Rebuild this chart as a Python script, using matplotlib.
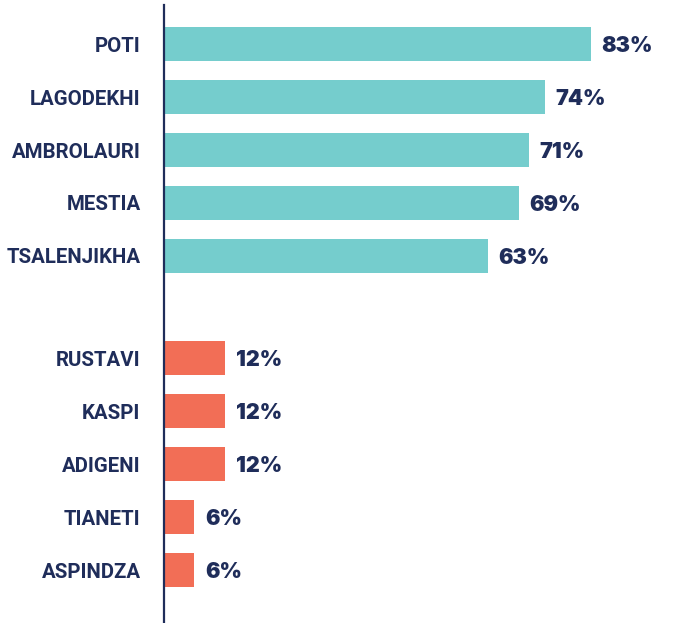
import matplotlib
matplotlib.use("Agg")
import matplotlib.pyplot as plt
import numpy as np

top_categories = ["POTI", "LAGODEKHI", "AMBROLAURI", "MESTIA", "TSALENJIKHA"]
top_values = [83, 74, 71, 69, 63]
bottom_categories = ["RUSTAVI", "KASPI", "ADIGENI", "TIANETI", "ASPINDZA"]
bottom_values = [12, 12, 12, 6, 6]

TEAL = "#75CDCD"
CORAL = "#F26E56"
NAVY = "#1F2D5A"

fig = plt.figure(figsize=(6.84, 6.23), dpi=100)
ax = fig.add_axes([163.5 / 684, 0.0, 1 - 163.5 / 684, 1 - 5 / 623])

gap = 1.925
top_pos = np.arange(len(top_values))
bottom_pos = np.arange(len(bottom_values)) + len(top_values) - 1 + gap

bh = 0.64
ax.barh(top_pos, top_values, height=bh, color=TEAL, zorder=2)
ax.barh(bottom_pos, bottom_values, height=bh, color=CORAL, zorder=2)

for p, v in list(zip(top_pos, top_values)) + list(zip(bottom_pos, bottom_values)):
    ax.annotate(f"{v}%", xy=(v, p), xytext=(7.5, -1.5), textcoords="offset points",
                va="center", ha="left", fontsize=15.5, fontweight=900,
                family="Inter", color=NAVY)

ax.set_yticks(list(top_pos) + list(bottom_pos))
ax.set_yticklabels(top_categories + bottom_categories, fontsize=14.7,
                   fontweight="bold", family="Roboto", color=NAVY)
ax.tick_params(axis="y", length=0, pad=16.5)
ax.set_xticks([])
ax.set_xlim(0, 101)
ax.set_ylim(10.925, -0.736)
for s in ["top", "right", "bottom"]:
    ax.spines[s].set_visible(False)
ax.spines["left"].set_color(NAVY)
ax.spines["left"].set_linewidth(1.6)
ax.spines["left"].set_zorder(3)

fig.savefig("out.png", dpi=100)
